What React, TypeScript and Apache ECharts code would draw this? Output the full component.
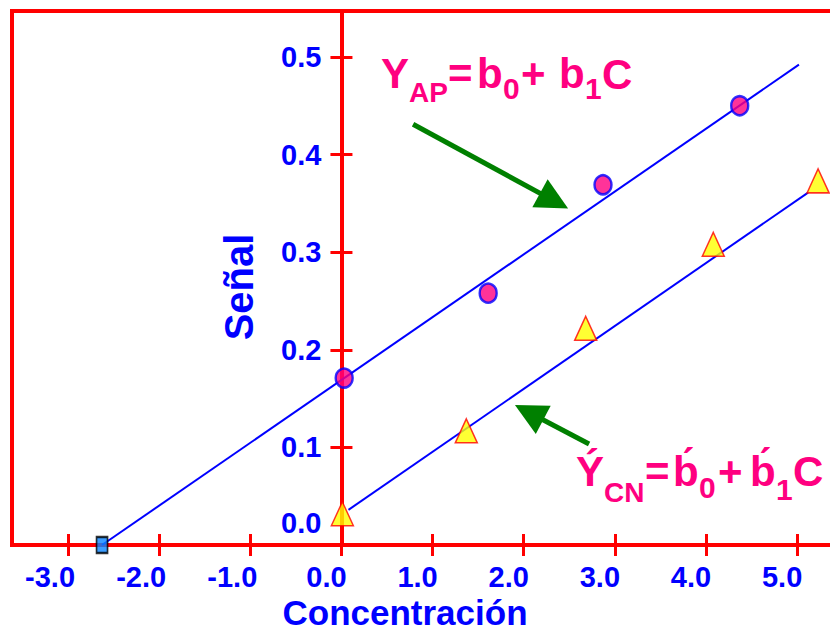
import React, { useEffect, useRef } from "react";
import * as echarts from "echarts";

// ---- data ----
const xTicks = [-3, -2, -1, 0, 1, 2, 3, 4, 5];
const yTicks = [0, 0.1, 0.2, 0.3, 0.4, 0.5];
// standard additions (AP): circles
const apPoints = [
  [0.03, 0.171],
  [1.61, 0.258],
  [2.87, 0.369],
  [4.37, 0.45],
];
// calibration (CN): triangles
const cnPoints = [
  [0.01, 0.032],
  [1.37, 0.117],
  [2.68, 0.222],
  [4.08, 0.308],
  [5.23, 0.373],
];
// extrapolated x-intercept
const xInterceptPoint = [[-2.627, 0]];
// fitted lines (end points)
const apFitLine = [
  [-2.627, 0],
  [5.02, 0.492],
];
const cnFitLine = [
  [0.077, 0.036],
  [5.12, 0.361],
];
// annotation arrows (start, end) in data units
const arrowAP = [
  [0.786, 0.431],
  [2.333, 0.3525],
];
const arrowCN = [
  [2.717, 0.1035],
  [2.059, 0.1358],
];
const X_MIN = -3.615;
const X_MAX = 5.69;
const Y_MIN = 0;
const Y_MAX = 0.547;

const RED = "#ff0000";
const BLUE = "#0000ff";
const PINK = "#ff0080";
const GREEN = "#008000";
const FONT = '"Liberation Sans", Arial, sans-serif';

const W = 830;
const H = 633;
const GRID_LEFT = 12;
const GRID_TOP = 11;
const GRID_RIGHT = -30;
const GRID_BOTTOM = 88;

// rich-text token helper: width = advance to next token, d = vertical shift (px, downwards)
function tok(fontSize: number, width: number | null, d: number) {
  const s: any = {
    fill: PINK,
    fontSize,
    fontWeight: "bold",
    fontFamily: FONT,
    align: "left",
    lineHeight: 60,
  };
  if (width != null) s.width = width;
  if (d > 0) s.padding = [2 * d, 0, 0, 0];
  if (d < 0) s.padding = [0, 0, -2 * d, 0];
  return s;
}

function equation(x: number, y: number, text: string, rich: any) {
  return {
    type: "text",
    x,
    y,
    silent: true,
    z: 100,
    style: {
      text,
      fill: PINK,
      fontSize: 42,
      fontWeight: "bold",
      fontFamily: FONT,
      align: "left",
      verticalAlign: "middle",
      lineHeight: 60,
      rich,
    },
  };
}

export default function App() {
  const ref = useRef<HTMLDivElement>(null);
  useEffect(() => {
    if (!ref.current) return;
    const chart = echarts.init(ref.current, undefined, { renderer: "svg" });
    const tickStyle = { color: RED, width: 3 };
    const gridW = W - GRID_LEFT - GRID_RIGHT;
    // put the vertical axis on x = 0
    const yOffset = -((0 - X_MIN) / (X_MAX - X_MIN)) * gridW;
    const baseX = {
      type: "value",
      min: X_MIN,
      max: X_MAX,
      position: "bottom",
      splitLine: { show: false },
      axisLine: { show: true, onZero: false, lineStyle: { color: RED, width: 4 } },
    };
    const baseY = {
      type: "value",
      min: Y_MIN,
      max: Y_MAX,
      position: "left",
      offset: yOffset,
      splitLine: { show: false },
      axisLine: { show: true, onZero: false, lineStyle: { color: RED, width: 4 } },
    };
    const labelFont = { color: BLUE, fontWeight: "bold", fontFamily: FONT };
    const option: any = {
      animation: false,
      backgroundColor: "#ffffff",
      grid: {
        show: true,
        left: GRID_LEFT,
        top: GRID_TOP,
        right: GRID_RIGHT,
        bottom: GRID_BOTTOM,
        containLabel: false,
        outerBoundsMode: "none",
        borderColor: RED,
        borderWidth: 4,
        backgroundColor: "transparent",
      },
      xAxis: [
        {
          ...baseX,
          name: "Concentración",
          nameLocation: "middle",
          nameGap: 50,
          nameMoveOverlap: false,
          nameTextStyle: { ...labelFont, fontSize: 35, padding: [0, 62, 0, 0] },
          axisTick: { show: true, inside: false, length: 11, customValues: xTicks, lineStyle: tickStyle },
          axisLabel: {
            show: true,
            customValues: xTicks,
            formatter: (v: number) => (v < 0 ? "{n|" + v.toFixed(1) + "}" : v.toFixed(1)),
            ...labelFont,
            fontSize: 29,
            margin: 17,
            padding: [0, 30, 0, 0],
            rich: {
              n: { ...labelFont, fontSize: 29, padding: [0, 6, 0, 0] },
            },
          },
        },
        {
          ...baseX,
          axisTick: { show: true, inside: true, length: 11, customValues: xTicks, lineStyle: tickStyle },
          axisLabel: { show: false },
        },
      ],
      yAxis: [
        {
          ...baseY,
          name: "Señal",
          nameLocation: "middle",
          nameGap: 82,
          nameMoveOverlap: false,
          nameTextStyle: { ...labelFont, fontSize: 40, padding: [0, 18, 0, 0] },
          axisTick: { show: true, inside: false, length: 11, customValues: yTicks, lineStyle: tickStyle },
          axisLabel: {
            show: true,
            customValues: yTicks,
            formatter: (v: number) => (v === 0 ? "{z|0.0}" : v.toFixed(1)),
            ...labelFont,
            fontSize: 29,
            margin: 20,
            rich: {
              z: { ...labelFont, fontSize: 29, padding: [0, 0, 44, 0] },
            },
          },
        },
        {
          ...baseY,
          axisTick: { show: true, inside: true, length: 11, customValues: yTicks, lineStyle: tickStyle },
          axisLabel: { show: false },
        },
      ],
      series: [
        {
          type: "line",
          data: apFitLine,
          symbol: "none",
          showSymbol: false,
          silent: true,
          lineStyle: { color: BLUE, width: 2 },
          z: 2,
          markLine: {
            silent: true,
            animation: false,
            symbol: ["none", "triangle"],
            symbolSize: 32,
            label: { show: false },
            lineStyle: { color: GREEN, width: 5, type: "solid" },
            data: [
              [{ coord: arrowAP[0] }, { coord: arrowAP[1] }],
              [{ coord: arrowCN[0] }, { coord: arrowCN[1] }],
            ],
          },
        },
        {
          type: "line",
          data: cnFitLine,
          symbol: "none",
          showSymbol: false,
          silent: true,
          lineStyle: { color: BLUE, width: 2 },
          z: 2,
        },
        {
          type: "scatter",
          data: apPoints,
          symbol: "circle",
          symbolSize: [17, 19],
          itemStyle: { color: PINK, borderColor: BLUE, borderWidth: 2.5 },
          z: 5,
        },
        {
          type: "scatter",
          data: cnPoints,
          symbol: "triangle",
          symbolSize: [22, 24],
          itemStyle: { color: "#ffff00", borderColor: RED, borderWidth: 1.5 },
          z: 5,
        },
        {
          type: "scatter",
          data: xInterceptPoint,
          symbol: "rect",
          symbolSize: [11, 16],
          itemStyle: { color: "#0a84ff", borderColor: "#000000", borderWidth: 2 },
          z: 6,
          clip: false,
        },
      ],
      graphic: [
        equation(381, 73, "{m1|Y}{s1|AP}{m2|=}{m3|b}{s2|0}{m4|+}{m5|b}{s3|1}{m6|C}", {
          m1: tok(42, 28, 0),
          s1: tok(28, 39, 19),
          m2: tok(42, 29, 0),
          m3: tok(42, 26, 0),
          s2: tok(30, 18, 15),
          m4: tok(42, 38, 0),
          m5: tok(42, 26, 0),
          s3: tok(30, 17, 15),
          m6: tok(42, null, 1),
        }),
        equation(
          576,
          471,
          "{m1|Y\u0301}{s1|CN}{m2|=}{m3|b\u0301}{s2|0}{m4|+}{m5|b\u0301}{s3|1}{m6|C}",
          {
            m1: tok(42, 28, 0),
            s1: tok(28, 41, 21),
            m2: tok(42, 28, 0),
            m3: tok(42, 26, 0),
            s2: tok(30, 19, 16),
            m4: tok(42, 32, 0),
            m5: tok(42, 26, 0),
            s3: tok(30, 17, 18),
            m6: tok(42, null, 0),
          }
        ),
      ],
    };
    chart.setOption(option);
    return () => chart.dispose();
  }, []);
  return (
    <div
      ref={ref}
      style={{ position: "fixed", left: 0, top: 0, width: W, height: H, background: "#fff" }}
    />
  );
}
